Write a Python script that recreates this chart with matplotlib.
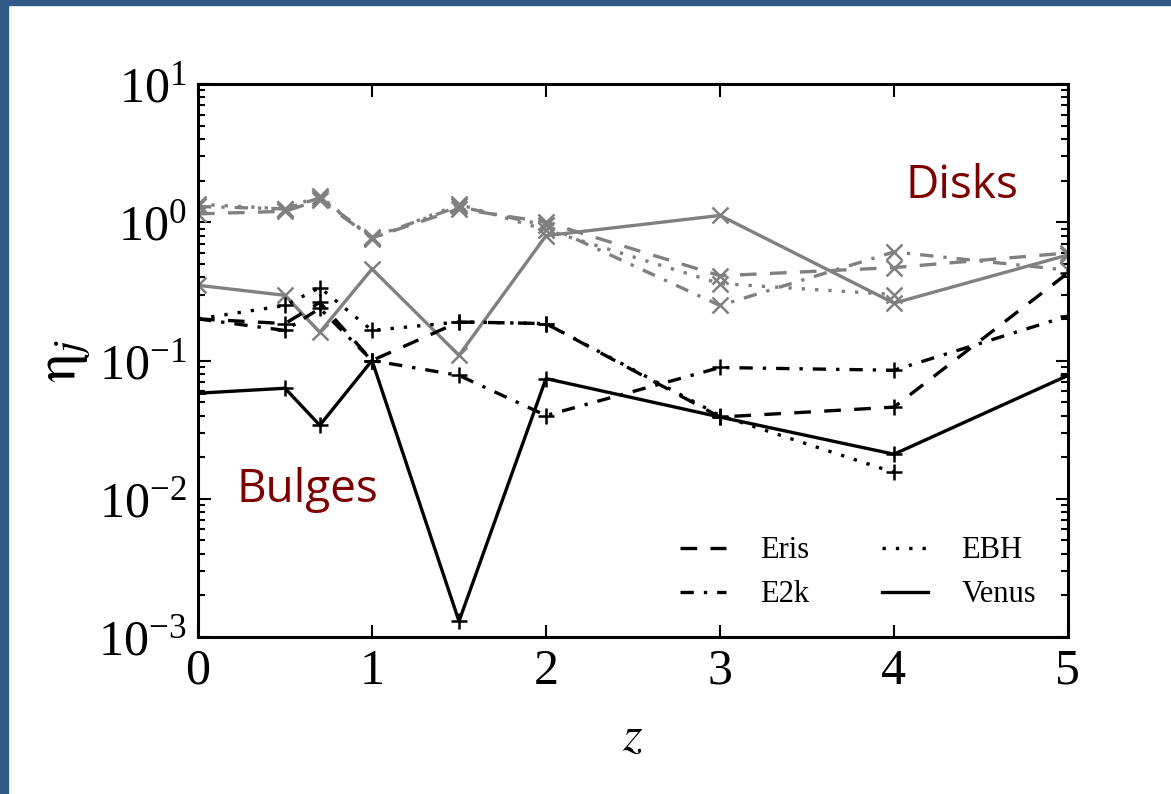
import numpy as np
import matplotlib
matplotlib.use('Agg')
import matplotlib.pyplot as plt
from matplotlib.patches import Rectangle
from matplotlib.lines import Line2D

plt.rcParams['font.family'] = ['Liberation Serif', 'DejaVu Serif']
plt.rcParams['mathtext.fontset'] = 'stix'

# redshift samples
z = [0, 0.5, 0.7, 1, 1.5, 2, 3, 4, 5]

# bulges (black, '+')
bulge_eris = [0.2, 0.185, 0.263, 0.1, 0.19, 0.185, 0.039, 0.046, 0.43]
bulge_e2k = [0.2, 0.165, 0.238, 0.1, 0.078, 0.04, 0.089, 0.085, 0.21]
bulge_ebh = [0.2, 0.25, 0.337, 0.165, 0.19, 0.185, 0.04, 0.0155, np.nan]
bulge_venus = [0.058, 0.063, 0.034, 0.1, 0.0013, 0.074, 0.039, 0.021, 0.078]

# disks (gray, 'x')
disk_eris = [1.15, 1.2, 1.45, 0.77, 1.25, 1.0, 0.41, 0.47, 0.6]
disk_e2k = [1.3, 1.25, 1.5, 0.78, 1.3, 0.95, 0.25, 0.61, 0.45]
disk_ebh = [1.35, 1.25, 1.55, 0.76, 1.35, 0.88, 0.36, 0.3, np.nan]
disk_venus = [0.35, 0.296, 0.16, 0.46, 0.109, 0.8, 1.12, 0.26, 0.58]

labels = ['Eris', 'E2k', 'EBH', 'Venus']
styles = [(0, (5, 4)), (0, (4, 3, 1, 3)), (0, (1, 3)), '-']

fig = plt.figure(figsize=(11.71, 7.94), dpi=100)
fig.patches.append(Rectangle((0, 0), 8 / 1171, 1, transform=fig.transFigure,
                             color='#2f5b86', zorder=0))
fig.patches.append(Rectangle((0, 1 - 5 / 794), 1, 5 / 794, transform=fig.transFigure,
                             color='#2f5b86', zorder=0))
ax = fig.add_axes([198 / 1171, 1 - 637 / 794, 870 / 1171, 553 / 794])

disks = [disk_eris, disk_e2k, disk_ebh, disk_venus]
bulges = [bulge_eris, bulge_e2k, bulge_ebh, bulge_venus]

for ys, ls in zip(disks, styles):
    ax.plot(z, ys, color='gray', linestyle=ls, linewidth=2.4, marker='x',
            markersize=11, markeredgewidth=1.8)
for ys, ls in zip(bulges, styles):
    ax.plot(z, ys, color='black', linestyle=ls, linewidth=2.4, marker='+',
            markersize=11, markeredgewidth=1.8)

ax.set_yscale('log')
ax.set_xlim(0, 5)
ax.set_ylim(1e-3, 1e1)
ax.set_xticks([0, 1, 2, 3, 4, 5])
ax.tick_params(which='both', direction='in', top=True, right=True, width=1.5)
ax.tick_params(which='major', length=9, labelsize=36, pad=8)
ax.tick_params(which='minor', length=5)
for sp in ax.spines.values():
    sp.set_linewidth(2.2)

ax.set_xlabel('$z$', fontsize=36, labelpad=14)
ax.set_ylabel(r'$\mathrm{\eta}_j$', fontsize=42, labelpad=4)

ax.text(0.878, 0.816, 'Disks', transform=ax.transAxes, fontsize=33,
        color='#7f0000', family='Open Sans', ha='center', va='center')
ax.text(0.126, 0.266, 'Bulges', transform=ax.transAxes, fontsize=33,
        color='#7f0000', family='Open Sans', ha='center', va='center')

handles = [Line2D([], [], color='black', linestyle=ls, linewidth=2.4) for ls in styles]
ax.legend(handles, labels, loc='lower right', ncol=2, frameon=False, fontsize=22,
          handlelength=1.5, handletextpad=1.1, columnspacing=2.4,
          labelspacing=0.5, bbox_to_anchor=(0.995, 0.0))

fig.savefig('out.png', dpi=100)
